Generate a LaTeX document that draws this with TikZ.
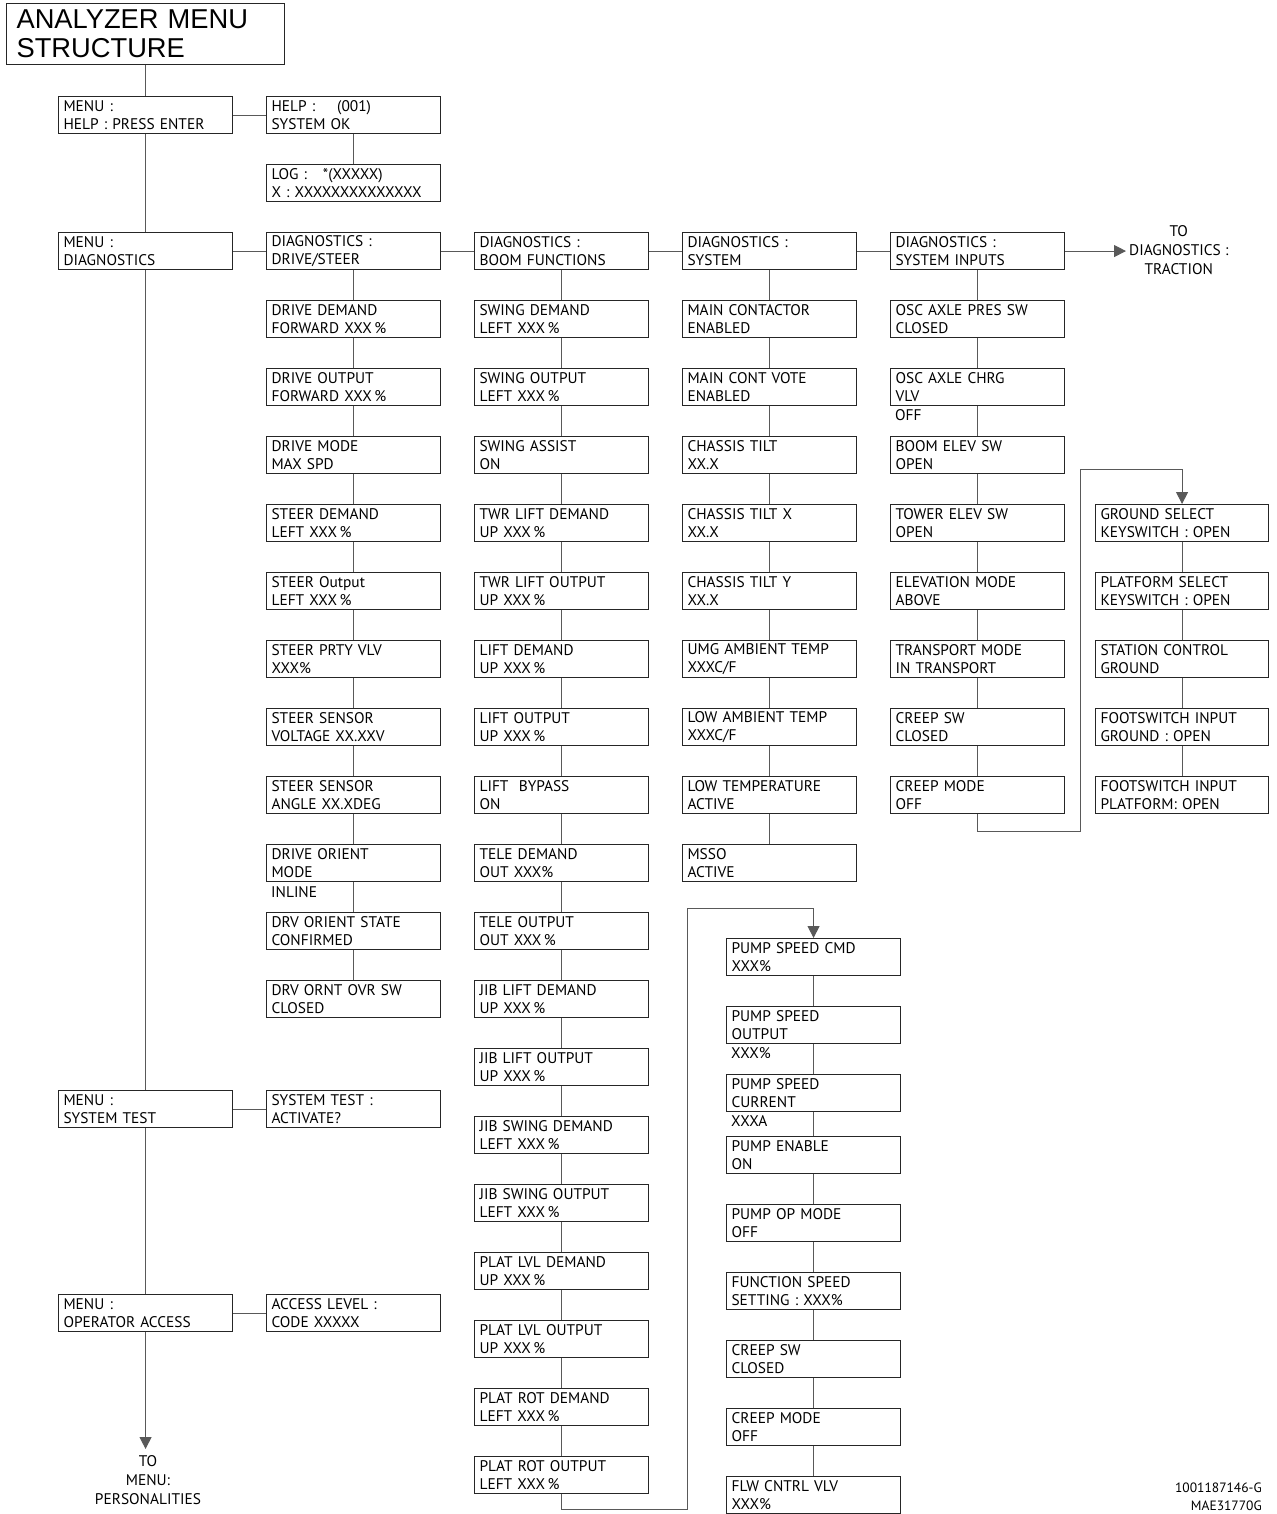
\documentclass[tikz,border=0pt]{standalone}
\usepackage{fontspec}
\setmainfont{PT Sans}
\newfontfamily\titlefont{Liberation Sans}
\usetikzlibrary{arrows.meta}
\begin{document}
\begin{tikzpicture}[x=1pt,y=-1pt,
  bx/.style={draw=black!85, line width=1.1pt, anchor=north west, minimum height=37pt,
    text width=164pt, inner xsep=5pt, inner ysep=0pt, align=left,
    font=\fontsize{15.4}{18.5}\selectfont},
  bxs/.style={bx, text width=163pt},
  extra/.style={anchor=base west, inner sep=0pt, font=\fontsize{15.4}{18.5}\selectfont},
  conn/.style={draw=black!65, line width=1pt},
  arr/.style={-{Triangle[length=12pt,width=12pt]}},
  lbl/.style={align=center, font=\fontsize{15.4}{19}\selectfont}]
\useasboundingbox (0,0) rectangle (1276,1514);

% title
\node[draw=black!85, line width=1.1pt, anchor=north west, minimum width=278pt, minimum height=61pt,
  text width=258pt, inner xsep=10pt, align=left, font=\titlefont\fontsize{27.3}{29}\selectfont]
  (title) at (6,3) {ANALYZER MENU\\STRUCTURE};

% column 1
\node[bx] (m1) at (58,96) {MENU :\\HELP : PRESS ENTER};
\node[bx] (m2) at (58,232) {MENU :\\DIAGNOSTICS};
\node[bx] (m3) at (58,1090) {MENU :\\SYSTEM TEST};
\node[bx] (m4) at (58,1294) {MENU :\\OPERATOR ACCESS};

% help / log
\node[bx] (help) at (266,96) {HELP :\hspace{22pt}(001)\\SYSTEM OK};
\node[bx] (log) at (266,164) {LOG :\hspace{16pt}*(XXXXX)\\X : XXXXXXXXXXXXXX};
\node[bx] (systest) at (266,1090) {SYSTEM TEST :\\ACTIVATE?};
\node[bx] (access) at (266,1294) {ACCESS LEVEL :\\CODE XXXXX};

% column 2
\foreach \t [count=\i] in {{DIAGNOSTICS :\\DRIVE/STEER},{DRIVE DEMAND\\FORWARD XXX\,\%},
  {DRIVE OUTPUT\\FORWARD XXX\,\%},{DRIVE MODE\\MAX SPD},{STEER DEMAND\\LEFT XXX\,\%},
  {STEER Output\\LEFT XXX\,\%},{STEER PRTY VLV\\XXX\%},{STEER SENSOR\\VOLTAGE XX.XXV},
  {STEER SENSOR\\ANGLE XX.XDEG},{DRIVE ORIENT\\MODE},{DRV ORIENT STATE\\CONFIRMED},
  {DRV ORNT OVR SW\\CLOSED}}
  {\node[bx] (c2-\i) at (266,{232+68*(\i-1)}) {\t};}
\node[extra] (inline) at ([xshift=5pt,yshift=-15pt]c2-10.south west) {INLINE};

% column 3
\foreach \t [count=\i] in {{DIAGNOSTICS :\\BOOM FUNCTIONS},{SWING DEMAND\\LEFT XXX\,\%},
  {SWING OUTPUT\\LEFT XXX\,\%},{SWING ASSIST\\ON},{TWR LIFT DEMAND\\UP XXX\,\%},
  {TWR LIFT OUTPUT\\UP XXX\,\%},{LIFT DEMAND\\UP XXX\,\%},{LIFT OUTPUT\\UP XXX\,\%},
  {LIFT\ \ BYPASS\\ON},{TELE DEMAND\\OUT XXX\%},{TELE OUTPUT\\OUT XXX\,\%},
  {JIB LIFT DEMAND\\UP XXX\,\%},{JIB LIFT OUTPUT\\UP XXX\,\%},{JIB SWING DEMAND\\LEFT XXX\,\%},
  {JIB SWING OUTPUT\\LEFT XXX\,\%},{PLAT LVL DEMAND\\UP XXX\,\%},{PLAT LVL OUTPUT\\UP XXX\,\%},
  {PLAT ROT DEMAND\\LEFT XXX\,\%},{PLAT ROT OUTPUT\\LEFT XXX\,\%}}
  {\node[bx] (c3-\i) at (474,{232+68*(\i-1)}) {\t};}

% column 4
\foreach \t [count=\i] in {{DIAGNOSTICS :\\SYSTEM},{MAIN CONTACTOR\\ENABLED},
  {MAIN CONT VOTE\\ENABLED},{CHASSIS TILT\\XX.X},{CHASSIS TILT X\\XX.X},{CHASSIS TILT Y\\XX.X},
  {UMG AMBIENT TEMP\\XXXC/F},{LOW AMBIENT TEMP\\XXXC/F},{LOW TEMPERATURE\\ACTIVE},
  {MSSO\\ACTIVE}}
  {\node[bx] (c4-\i) at (682,{232+68*(\i-1)}) {\t};}

% column 5
\foreach \t [count=\i] in {{DIAGNOSTICS :\\SYSTEM INPUTS},{OSC AXLE PRES SW\\CLOSED},
  {OSC AXLE CHRG\\VLV},{BOOM ELEV SW\\OPEN},{TOWER ELEV SW\\OPEN},{ELEVATION MODE\\ABOVE},
  {TRANSPORT MODE\\IN TRANSPORT},{CREEP SW\\CLOSED},{CREEP MODE\\OFF}}
  {\node[bx] (c5-\i) at (890,{232+68*(\i-1)}) {\t};}
\node[extra] (off) at ([xshift=5pt,yshift=-14.5pt]c5-3.south west) {OFF};

% column 6
\foreach \t [count=\i] in {{GROUND SELECT\\KEYSWITCH : OPEN},{PLATFORM SELECT\\KEYSWITCH : OPEN},
  {STATION CONTROL\\GROUND},{FOOTSWITCH INPUT\\GROUND : OPEN},{FOOTSWITCH INPUT\\PLATFORM: OPEN}}
  {\node[bxs] (c6-\i) at (1095,{504+68*(\i-1)}) {\t};}

% column 7 (pump)
\node[bx] (p1) at (726,938) {PUMP SPEED CMD\\XXX\%};
\node[bx] (p2) at (726,1006) {PUMP SPEED\\OUTPUT};
\node[extra] (p2x) at ([xshift=5pt,yshift=-14.5pt]p2.south west) {XXX\%};
\node[bx] (p3) at (726,1074) {PUMP SPEED\\CURRENT};
\node[extra] (p3x) at ([xshift=5pt,yshift=-14.5pt]p3.south west) {XXXA};
\node[bx] (p4) at (726,1136) {PUMP ENABLE\\ON};
\node[bx] (p5) at (726,1204) {PUMP OP MODE\\OFF};
\node[bx] (p6) at (726,1272) {FUNCTION SPEED\\SETTING : XXX\%};
\node[bx] (p7) at (726,1340) {CREEP SW\\CLOSED};
\node[bx] (p8) at (726,1408) {CREEP MODE\\OFF};
\node[bx] (p9) at (726,1476) {FLW CNTRL VLV\\XXX\%};

% labels
\node[lbl, anchor=west, inner xsep=3pt] (traction) at (1126,250.5) {TO\\DIAGNOSTICS :\\TRACTION};
\node[lbl, anchor=north, inner ysep=6pt] (pers) at (148,1449) {TO\\MENU:\\PERSONALITIES};
\node[anchor=north east, align=right, inner sep=0pt, font=\fontsize{13.5}{18}\selectfont] (code) at (1262,1483) {1001187146-G\\MAE31770G};

% connectors: main spine
\draw[conn] (title) -- (m1);
\draw[conn] (m1) -- (m2);
\draw[conn] (m2) -- (m3);
\draw[conn] (m3) -- (m4);
\draw[conn,arr] (m4.south) -- (m4.south |- pers.north);
% horizontals
\draw[conn] (m1) -- (help);
\draw[conn] (help) -- (log);
\draw[conn] (m2) -- (c2-1);
\draw[conn] (c2-1) -- (c3-1);
\draw[conn] (c3-1) -- (c4-1);
\draw[conn] (c4-1) -- (c5-1);
\draw[conn,arr] (c5-1.east) -- (c5-1.east -| traction.west);
\draw[conn] (m3) -- (systest);
\draw[conn] (m4) -- (access);
% verticals
\foreach \i [count=\j from 2] in {1,...,11} \draw[conn] (c2-\i) -- (c2-\j);
\foreach \i [count=\j from 2] in {1,...,18} \draw[conn] (c3-\i) -- (c3-\j);
\foreach \i [count=\j from 2] in {1,...,9} \draw[conn] (c4-\i) -- (c4-\j);
\foreach \i [count=\j from 2] in {1,...,8} \draw[conn] (c5-\i) -- (c5-\j);
\foreach \i [count=\j from 2] in {1,...,4} \draw[conn] (c6-\i) -- (c6-\j);
\foreach \i [count=\j from 2] in {1,...,8} \draw[conn] (p\i) -- (p\j);
% loops
\coordinate (k1) at (1080,831);
\coordinate (k2) at (1080,469);
\draw[conn,arr] (c5-9.south) |- (k1) -- (k2) -| (c6-1.north);
\coordinate (q1) at (687,1509);
\coordinate (q2) at (687,908);
\draw[conn,arr] (c3-19.south) |- (q1) -- (q2) -| (p1.north);
\end{tikzpicture}
\end{document}
